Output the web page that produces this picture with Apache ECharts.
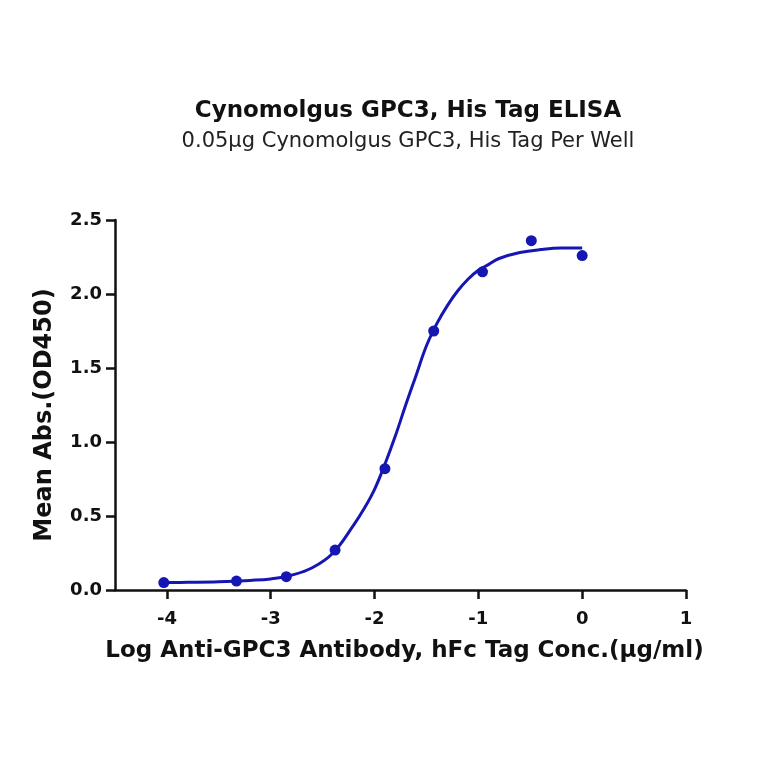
<!DOCTYPE html>
<html>
<head>
<meta charset="utf-8">
<script src="https://cdn.jsdelivr.net/npm/echarts@6/dist/echarts.min.js"></script>
<style>
  html, body { margin: 0; padding: 0; background: #fff; }
  #main { width: 764px; height: 764px; }
</style>
</head>
<body>
<div id="main"></div>
<script>
// measured points: log conc. and mean OD450
var logConc = [-4.03, -3.33, -2.85, -2.38, -1.90, -1.43, -0.96, -0.49, 0];
var meanAbs = [0.05, 0.06, 0.09, 0.27, 0.82, 1.75, 2.15, 2.36, 2.26];

// fitted curve
var fitX = [-4.03, -3.8, -3.5, -3.2, -3.0, -2.8, -2.6, -2.4, -2.2, -2.1, -2.0, -1.9, -1.8, -1.7, -1.6, -1.5, -1.4, -1.3, -1.2, -1.1, -1.0, -0.9, -0.8, -0.6, -0.4, -0.2, 0];
var fitY = [0.05, 0.052, 0.056, 0.065, 0.075, 0.10, 0.15, 0.25, 0.44, 0.55, 0.68, 0.85, 1.04, 1.25, 1.45, 1.65, 1.80, 1.92, 2.02, 2.10, 2.16, 2.20, 2.24, 2.28, 2.30, 2.31, 2.31];

var xTicks = [-4, -3, -2, -1, 0, 1];

var blue = '#1616b2';
var font = 'DejaVu Sans, sans-serif';

var myChart = echarts.init(document.getElementById('main'));

var option = {
  animation: false,
  title: {
    text: 'Cynomolgus GPC3, His Tag ELISA',
    subtext: '0.05µg Cynomolgus GPC3, His Tag Per Well',
    left: 403,
    textAlign: 'center',
    top: 95,
    itemGap: 8,
    textStyle: { fontFamily: font, fontSize: 23, fontWeight: 'bold', color: '#111' },
    subtextStyle: { fontFamily: font, fontSize: 21, color: '#222' }
  },
  grid: { left: 115, right: 78, top: 220, bottom: 174 },
  xAxis: {
    type: 'value',
    min: -4.5,
    max: 1,
    name: 'Log Anti-GPC3 Antibody, hFc Tag Conc.(µg/ml)',
    nameLocation: 'middle',
    nameGap: 50,
    nameTextStyle: { fontFamily: font, fontSize: 23, fontWeight: 'bold', color: '#111', padding: [0, 0, 0, 8] },
    splitLine: { show: false },
    axisLine: { onZero: false, lineStyle: { color: '#111', width: 2.5 } },
    axisTick: { show: true, length: 9, lineStyle: { color: '#111', width: 2.5 }, customValues: xTicks },
    axisLabel: { fontFamily: font, fontSize: 18, fontWeight: 'bold', color: '#111', margin: 20, customValues: xTicks }
  },
  yAxis: {
    type: 'value',
    min: 0,
    max: 2.5,
    interval: 0.5,
    name: 'Mean Abs.(OD450)',
    nameLocation: 'middle',
    nameGap: 58,
    nameTextStyle: { fontFamily: font, fontSize: 24, fontWeight: 'bold', color: '#111', padding: [0, 0, 0, -20] },
    splitLine: { show: false },
    axisLine: { show: true, onZero: false, lineStyle: { color: '#111', width: 2.5 } },
    axisTick: { show: true, length: 9, lineStyle: { color: '#111', width: 2.5 } },
    axisLabel: {
      fontFamily: font, fontSize: 18, fontWeight: 'bold', color: '#111', margin: 13,
      formatter: function (v) { return v.toFixed(1); }
    }
  },
  series: [
    {
      name: 'fit',
      type: 'line',
      smooth: 0.4,
      showSymbol: false,
      data: fitX.map(function (x, i) { return [x, fitY[i]]; }),
      lineStyle: { color: blue, width: 3 },
      z: 2
    },
    {
      name: 'OD450',
      type: 'scatter',
      symbolSize: 11,
      data: logConc.map(function (x, i) { return [x, meanAbs[i]]; }),
      itemStyle: { color: blue, opacity: 1 },
      z: 3
    }
  ]
};

myChart.setOption(option);
</script>
</body>
</html>
